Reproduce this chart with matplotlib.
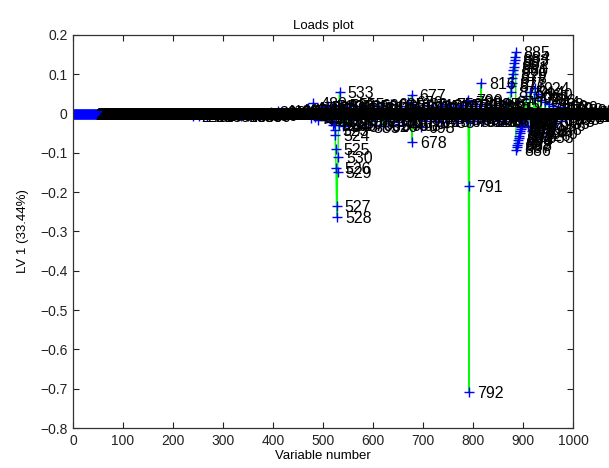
import numpy as np
import matplotlib
matplotlib.use("Agg")
import matplotlib.pyplot as plt

plt.rcParams['font.family'] = ['Liberation Sans', 'DejaVu Sans']

# ---------------- data ----------------
n_vars = 1060
first_labelled = 28

# prominent loadings
spike_vars = [524, 525, 526, 527, 528, 529, 530, 533, 677, 678, 791, 792, 793, 816]
spike_vals = [-0.055, -0.090, -0.138, -0.234, -0.262, -0.148, -0.110, 0.055,
              0.047, -0.073, -0.183, -0.708, -0.020, 0.079]

# cluster around variable 885
cluster_pos_vars = [875, 876, 877, 878, 879, 880, 881, 882, 883, 884, 885]
cluster_pos_vals = [0.056, 0.069, 0.077, 0.090, 0.102, 0.111, 0.119, 0.128, 0.136, 0.145, 0.157]
cluster_neg_vars = [886, 887, 888, 889, 890, 891, 892, 893, 894, 895, 896, 897, 898, 899,
                    900, 901, 902, 903, 904]
cluster_neg_vals = [-0.093, -0.086, -0.080, -0.074, -0.068, -0.062, -0.056, -0.050, -0.045,
                    -0.040, -0.035, -0.030, -0.026, -0.022, -0.018, -0.014, -0.010, -0.008, -0.005]

# small loadings hidden in the dense label band (estimated)
band_vars = [240, 252, 268, 290, 318, 335, 350, 366, 380,
             396, 410, 425, 440, 452, 462,
             470, 475, 480, 484, 490, 495, 500, 505, 510, 515, 518, 520, 521, 522, 523,
             531, 532, 536, 540, 545, 550, 555, 560, 565, 570, 575, 580, 585, 590, 595,
             600, 605, 610, 615, 620, 625, 630, 635, 640, 645, 650, 655, 660, 665, 670,
             673, 680, 684, 690, 695, 700, 705, 710, 715, 720, 725, 730, 735, 740, 745,
             750, 755, 760, 765, 770, 775, 780, 785, 788, 790, 798, 802, 806, 810, 814,
             820, 825, 830, 835, 840, 845, 850, 855, 860, 865, 870,
             906, 910, 914, 918, 922, 924, 926, 930, 933, 936, 940, 944, 948, 952, 956,
             960, 965, 970, 975, 980, 985, 990, 995, 1000, 1010, 1020, 1030, 1040, 1050]
band_vals = [-0.006, -0.005, -0.007, -0.004, -0.006, -0.005, -0.007, -0.006, -0.004,
             0.005, 0.006, 0.004, 0.008, 0.006, 0.010,
             0.015, -0.012, 0.027, -0.008, -0.016, 0.012, 0.018, -0.010, 0.020, -0.020,
             0.015, -0.030, 0.010, -0.025, -0.042,
             -0.030, 0.020, 0.022, -0.032, 0.018, -0.025, 0.025, -0.015, 0.020, -0.030,
             0.012, 0.018, -0.035, 0.015, -0.020,
             0.022, -0.028, 0.010, 0.020, -0.032, 0.015, -0.018, 0.025, -0.030, 0.012,
             -0.022, 0.020, -0.028, 0.015, 0.030,
             -0.020, 0.025, -0.030, 0.018, -0.035, 0.015, -0.020, 0.022, -0.012, 0.018,
             -0.018, 0.012, -0.022, 0.020, -0.015,
             0.025, -0.010, 0.015, -0.020, 0.018, -0.012, 0.022, -0.015, 0.030, 0.035,
             0.020, -0.015, 0.025, -0.018, 0.020,
             -0.020, 0.025, -0.015, 0.018, -0.012, 0.022, -0.018, 0.015, -0.020, 0.025, 0.030,
             0.045, -0.035, 0.055, -0.045, 0.040, 0.065, -0.055, 0.050, -0.060, 0.035,
             -0.050, 0.030, -0.040, 0.025, -0.030,
             0.020, -0.025, 0.015, -0.020, 0.018, -0.015, 0.012, -0.012, 0.010, -0.006,
             0.005, -0.005, 0.004, -0.004]

title_text = "Loads plot"
xlabel_text = "Variable number"
ylabel_text = "LV 1 (33.44%)"
xticks = [0, 100, 200, 300, 400, 500, 600, 700, 800, 900, 1000]
yticks = [0.2, 0.1, 0, -0.1, -0.2, -0.3, -0.4, -0.5, -0.6, -0.7, -0.8]

# ---------------- build ----------------
var_idx = np.arange(1, n_vars + 1)
loads = np.zeros(n_vars)
for vs, vals in [(band_vars, band_vals), (spike_vars, spike_vals),
                 (cluster_pos_vars, cluster_pos_vals), (cluster_neg_vars, cluster_neg_vals)]:
    loads[np.array(vs) - 1] = vals

fig = plt.figure(figsize=(6.09, 4.68), dpi=100)
ax = fig.add_axes([73 / 609, 1 - 428 / 468, 500 / 609, 393 / 468])

ax.plot(var_idx, loads, color='#00ff00', lw=1.0, zorder=1)
ax.plot(var_idx, loads, linestyle='none', marker='+', color='#0000ff',
        ms=7.5, mew=1.0, zorder=2)

for v, y in zip(var_idx, loads):
    if v < first_labelled:
        continue
    ax.text(v + 16, y, str(v), fontsize=11.5, color='black', ha='left',
            va='center_baseline', clip_on=False, zorder=3)

ax.set_xlim(0, 1000)
ax.set_ylim(-0.8, 0.2)
ax.set_xticks(xticks)
ax.set_yticks(yticks)
ax.set_yticklabels([("%g" % t).replace('-', '\u2212') for t in yticks])
ax.tick_params(direction='in', length=4, width=0.8, top=True, right=True,
               labelsize=10, pad=4, colors='#222222')
for s in ax.spines.values():
    s.set_linewidth(0.9)
    s.set_color('#333333')

ax.set_title(title_text, fontsize=9.5, pad=4)
ax.set_xlabel(xlabel_text, fontsize=9.5, labelpad=2)
ax.set_ylabel(ylabel_text, fontsize=9.5, labelpad=8)

fig.savefig("out.png", dpi=100)
